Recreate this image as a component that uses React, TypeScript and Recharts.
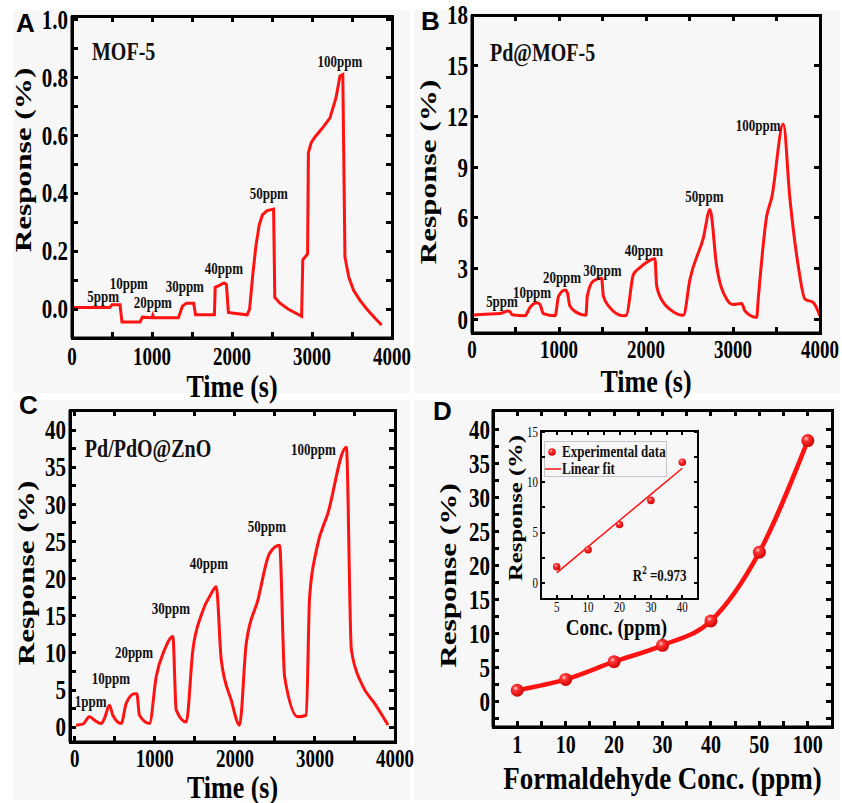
import { LineChart, ComposedChart, Line, XAxis, YAxis, ReferenceDot, Legend, Label } from "recharts";

const SERIF = '"Liberation Serif", "Times New Roman", serif';
const SANS = '"Liberation Sans", Arial, sans-serif';
const RED = "#ff1212";
const BG = "#f7f7f7";
const SY = 1.3; // source figure is stretched vertically, so is the text

// ---- A: MOF-5 ----
const timeA = [0, 470, 500, 600, 625, 850, 880, 1000, 1010, 1020, 1330, 1380, 1430, 1520, 1545, 1780, 1790, 1830, 1900, 1930, 1955, 2050, 2190, 2220, 2260, 2300, 2340, 2380, 2440, 2520, 2535, 2600, 2700, 2870, 2885, 2945, 2955, 2990, 3040, 3130, 3225, 3300, 3350, 3385, 3412, 3460, 3520, 3600, 3700, 3800, 3870];
const respA = [0.005, 0.005, 0.015, 0.015, -0.045, -0.045, -0.028, -0.03, -0.022, -0.03, -0.03, 0.01, 0.02, 0.02, -0.02, -0.02, 0.075, 0.08, 0.09, 0.085, -0.012, -0.015, -0.02, 0.0, 0.12, 0.22, 0.29, 0.325, 0.34, 0.345, 0.04, 0.02, 0.0, -0.025, 0.17, 0.19, 0.54, 0.575, 0.595, 0.625, 0.66, 0.73, 0.805, 0.81, 0.18, 0.11, 0.065, 0.03, -0.005, -0.035, -0.055];

// ---- B: Pd@MOF-5 ----
const timeB = [0, 100, 320, 415, 440, 460, 610, 665, 745, 780, 820, 955, 995, 1070, 1095, 1125, 1200, 1310, 1325, 1395, 1490, 1510, 1585, 1737, 1775, 1855, 1930, 2103, 2123, 2200, 2276, 2430, 2505, 2660, 2735, 2812, 2928, 3000, 3100, 3138, 3272, 3290, 3387, 3445, 3578, 3655, 3750, 3828, 3923, 4000];
const respB = [0.25, 0.3, 0.35, 0.5, 0.45, 0.28, 0.22, 0.7, 0.99, 0.9, 0.35, 0.22, 1.38, 1.74, 1.6, 0.8, 0.42, 0.25, 1.38, 2.27, 2.43, 1.38, 0.7, 0.22, 0.25, 2.66, 3.06, 3.59, 1.97, 1.0, 0.6, 0.25, 2.37, 4.84, 6.5, 3.16, 1.2, 0.89, 0.95, 0.5, 0.12, 1.2, 6.1, 7.2, 11.55, 7.1, 3.16, 1.2, 1.0, 0.2];

// ---- C: Pd/PdO@ZnO ----
const timeC = [16, 100, 183, 245, 330, 370, 433, 475, 580, 642, 745, 775, 808, 933, 1017, 1120, 1225, 1267, 1392, 1475, 1580, 1705, 1767, 1830, 1955, 2058, 2142, 2287, 2433, 2558, 2621, 2787, 2892, 2933, 3017, 3162, 3392, 3455, 3580, 3745, 3850, 3912];
const respC = [0.27, 0.4, 1.39, 0.94, 0.5, 1.17, 2.96, 1.6, 0.5, 3.2, 4.5, 4.5, 1.6, 0.5, 6.8, 10.4, 12.2, 2.3, 0.7, 10.4, 15.1, 18.0, 18.9, 9.0, 3.6, 0.27, 11.3, 17.1, 23.4, 24.5, 6.8, 1.4, 1.6, 17.5, 23.8, 28.8, 37.7, 10.4, 5.9, 3.2, 1.4, 0.3];

// ---- D: response vs concentration ----
const concD = ["1", "10", "20", "30", "40", "50", "100"];
const respD = [1.7, 3.3, 5.9, 8.3, 11.9, 22.0, 38.4];

// inset
const concIn = ["5", "10", "20", "30", "40"];
const respIn = [1.6, 3.3, 5.8, 8.2, 12.0];
const fitIn = [1.0, 3.6, 6.2, 8.8, 11.4];

// ticks
const TIME_TICKS = [0, 500, 1000, 1500, 2000, 2500, 3000, 3500, 4000];
const yTicksA = [0, 0.1, 0.2, 0.3, 0.4, 0.5, 0.6, 0.7, 0.8, 0.9, 1.0];
const yTicksB = [0, 3, 6, 9, 12, 15, 18];
const yTicksC = [0, 2.5, 5, 7.5, 10, 12.5, 15, 17.5, 20, 22.5, 25, 27.5, 30, 32.5, 35, 37.5, 40];
const yTicksD = [-2.5, 0, 2.5, 5, 7.5, 10, 12.5, 15, 17.5, 20, 22.5, 25, 27.5, 30, 32.5, 35, 37.5, 40];
const xTicksD = [0, 0.5, 1, 1.5, 2, 2.5, 3, 3.5, 4, 4.5, 5, 5.5, 6];
const yTicksIn = [0, 2.5, 5, 7.5, 10, 12.5, 15];
const xTicksIn = [0, 0.5, 1, 1.5, 2, 2.5, 3, 3.5, 4];

// domains
const xDomA: [number, number] = [0, 4000];
const yDomA: [number, number] = [-0.1, 1.012];
const xDomB: [number, number] = [0, 4000];
const yDomB: [number, number] = [-0.8, 18];
const xDomC: [number, number] = [-60, 4000];
const yDomC: [number, number] = [-2, 42.7];
const xDomD: [number, number] = [-0.5, 6.5];
const yDomD: [number, number] = [-3.7, 42.9];
const xDomIn: [number, number] = [-0.5, 4.5];
const yDomIn: [number, number] = [-1.6, 15.1];

// annotation placement (data units)
type Note = { text: string; t: number; v: number };
const notesA: Note[] = [
  { text: "5ppm", t: 390, v: 0.045 },
  { text: "10ppm", t: 710, v: 0.09 },
  { text: "20ppm", t: 1010, v: 0.024 },
  { text: "30ppm", t: 1410, v: 0.08 },
  { text: "40ppm", t: 1900, v: 0.14 },
  { text: "50ppm", t: 2460, v: 0.4 },
  { text: "100ppm", t: 3350, v: 0.855 },
];
const notesB: Note[] = [
  { text: "5ppm", t: 345, v: 1.07 },
  { text: "10ppm", t: 690, v: 1.6 },
  { text: "20ppm", t: 1035, v: 2.48 },
  { text: "30ppm", t: 1500, v: 2.94 },
  { text: "40ppm", t: 1977, v: 4.12 },
  { text: "50ppm", t: 2672, v: 7.27 },
  { text: "100ppm", t: 3289, v: 11.5 },
];
const notesC: Note[] = [
  { text: "1ppm", t: 198, v: 3.45 },
  { text: "10ppm", t: 452, v: 6.6 },
  { text: "20ppm", t: 740, v: 10.1 },
  { text: "30ppm", t: 1200, v: 16.0 },
  { text: "40ppm", t: 1675, v: 22.1 },
  { text: "50ppm", t: 2400, v: 27.1 },
  { text: "100ppm", t: 2980, v: 37.35 },
];

const fmtTime = (v: number) => (v % 1000 === 0 ? String(v) : "");
const fmtA = (v: number) => (Math.round(v * 10) % 2 === 0 ? v.toFixed(1) : "");
const fmtFive = (v: number) => (v % 5 === 0 ? String(v) : "");

// stretched tick label (axes use tickSize=0, tickMargin=gap)
function tickText(side: "bottom" | "left", fmt: (v: number) => string, size: number, weight = "bold") {
  return (p: any) => {
    const s = fmt(p.payload.value);
    if (!s) return <g />;
    return (
      <text
        transform={`translate(${p.x},${p.y}) scale(1,${SY})`}
        y={side === "bottom" ? size * 0.68 : size * 0.34}
        textAnchor={side === "bottom" ? "middle" : "end"}
        fontFamily={SERIF}
        fontWeight={weight}
        fontSize={size}
        fill="#000"
      >
        {s}
      </text>
    );
  };
}

const noteText = (text: string, size: number, anchor = "middle") => (props: any) => {
  const vb = props.viewBox;
  const cx = vb.x + (vb.width || 0) / 2;
  const cy = vb.y + (vb.height || 0) / 2;
  return (
    <text transform={`translate(${cx},${cy}) scale(1,${SY})`} y={size * 0.34} textAnchor={anchor} fontFamily={SERIF} fontWeight="bold" fontSize={size} fill="#111">
      {text}
    </text>
  );
};

const xTitle = (text: string, dy: number, size: number, dx = 0) => (props: any) => {
  const vb = props.viewBox;
  const cx = vb.x + vb.width / 2 + dx;
  const cy = vb.y + dy;
  return (
    <text transform={`translate(${cx},${cy}) scale(1,1.2)`} y={size * 0.35} textAnchor="middle" fontFamily={SERIF} fontWeight="bold" fontSize={size} fill="#000">
      {text}
    </text>
  );
};

const yTitle = (text: string, dx: number, dy: number, size: number) => (props: any) => {
  const vb = props.viewBox;
  const cx = vb.x + dx;
  const cy = vb.y + vb.height / 2 + dy;
  return (
    <text transform={`translate(${cx},${cy}) rotate(-90) scale(${SY},1)`} y={size * 0.35} textAnchor="middle" fontFamily={SERIF} fontWeight="bold" fontSize={size} fill="#000">
      {text}
    </text>
  );
};

const AX = { stroke: "#000", strokeWidth: 3 };

type PanelProps = {
  rows: { t: number; r: number }[];
  yDomain: [number, number];
  xDomain: [number, number];
  yTicks: number[];
  yFmt: (v: number) => string;
  notes: Note[];
  title: Note;
  w: number;
  h: number;
  margin: { top: number; right: number; bottom: number; left: number };
  yw: number;
  xh: number;
  xGap: number;
  yTitleDx: number;
  yTitleDy: number;
  xTitleDy: number;
  curve: "linear" | "monotone";
};

function TimePanel(p: PanelProps) {
  return (
    <LineChart width={p.w} height={p.h} data={p.rows} margin={p.margin}>
      <XAxis dataKey="t" type="number" domain={p.xDomain} ticks={TIME_TICKS} allowDataOverflow interval={0} height={p.xh}
        axisLine={AX} tickLine={false} tickSize={0} tickMargin={p.xGap} tick={tickText("bottom", fmtTime, 19)}>
        <Label content={xTitle("Time (s)", p.xTitleDy, 26)} />
      </XAxis>
      <YAxis type="number" domain={p.yDomain} ticks={p.yTicks} allowDataOverflow interval={0} width={p.yw}
        axisLine={AX} tickLine={false} tickSize={0} tickMargin={4} tick={tickText("left", p.yFmt, 21)}>
        <Label content={yTitle("Response (%)", p.yTitleDx, p.yTitleDy, 24)} />
      </YAxis>
      <Line dataKey="r" type={p.curve} stroke={RED} strokeWidth={3} dot={false} isAnimationActive={false} />
      <ReferenceDot x={p.title.t} y={p.title.v} r={0} fill="none" stroke="none" label={noteText(p.title.text, 20, "start")} />
      {p.notes.map((n) => (
        <ReferenceDot key={n.text} x={n.t} y={n.v} r={0} fill="none" stroke="none" label={noteText(n.text, 13)} />
      ))}
    </LineChart>
  );
}

const rowsA = timeA.map((t, i) => ({ t, r: respA[i] }));
const rowsB = timeB.map((t, i) => ({ t, r: respB[i] }));
const rowsC = timeC.map((t, i) => ({ t, r: respC[i] }));
const rowsD = concD.map((c, i) => ({ i, c, r: respD[i] }));
const rowsIn = concIn.map((c, i) => ({ i, c, exp: respIn[i], fit: fitIn[i] }));

const ball = (id: string, rad: number) => (p: any) =>
  p.cx == null ? <g key={p.index} /> : <circle key={p.index} cx={p.cx} cy={p.cy} r={rad} fill={`url(#${id})`} />;

const Grad = ({ id }: { id: string }) => (
  <radialGradient id={id} cx="0.38" cy="0.35" r="0.7">
    <stop offset="0" stopColor="#ffd0d0" />
    <stop offset="0.3" stopColor="#ff3030" />
    <stop offset="1" stopColor="#cc0000" />
  </radialGradient>
);

const insetLegend = () => (
  <div style={{ width: 123, height: 36, border: "1px solid #c4c4c4", fontFamily: SERIF, fontWeight: "bold", fontSize: 13, color: "#111", boxSizing: "border-box", whiteSpace: "nowrap", lineHeight: "17px" }}>
    <div style={{ display: "flex", alignItems: "center", height: 17, marginTop: 1 }}>
      <svg width={17} height={17} style={{ flex: "none" }}>
        <circle cx={7} cy={9} r={3.8} fill="url(#ballS)" />
      </svg>
      <span style={{ display: "inline-block", transform: `scaleY(${SY})` }}>Experimental data</span>
    </div>
    <div style={{ display: "flex", alignItems: "center", height: 17 }}>
      <svg width={17} height={17} style={{ flex: "none" }}>
        <line x1={0} x2={16} y1={9} y2={9} stroke={RED} strokeWidth={1.5} />
      </svg>
      <span style={{ display: "inline-block", transform: `scaleY(${SY})` }}>Linear fit</span>
    </div>
  </div>
);

const r2Label = (props: any) => {
  const vb = props.viewBox;
  const cx = vb.x + (vb.width || 0) / 2;
  const cy = vb.y + (vb.height || 0) / 2;
  return (
    <text transform={`translate(${cx},${cy}) scale(1,${SY})`} y={4.5} textAnchor="middle" fontFamily={SERIF} fontWeight="bold" fontSize={13} fill="#111">
      R<tspan fontSize={9} dy={-5}>2</tspan>
      <tspan dy={5}> =0.973</tspan>
    </text>
  );
};

const AXI = { stroke: "#000", strokeWidth: 1.7 };

function Inset() {
  const xf = (v: number) => (Number.isInteger(v) ? concIn[v] : "");
  return (
    <ComposedChart width={205} height={232} data={rowsIn} margin={{ top: 11, right: 7, bottom: 17, left: 0 }}>
      <defs>
        <Grad id="ballS" />
      </defs>
      <XAxis dataKey="i" type="number" domain={xDomIn} ticks={xTicksIn} allowDataOverflow interval={0} height={36}
        axisLine={AXI} tickLine={false} tickSize={0} tickMargin={3} tick={tickText("bottom", xf, 11, "normal")}>
        <Label content={xTitle("Conc. (ppm)", 28, 19, -3)} />
      </XAxis>
      <YAxis type="number" domain={yDomIn} ticks={yTicksIn} allowDataOverflow interval={0} width={41}
        axisLine={AXI} tickLine={false} tickSize={0} tickMargin={3} tick={tickText("left", fmtFive, 11, "normal")}>
        <Label content={yTitle("Response (%)", 15, -7, 19)} />
      </YAxis>
      <Line dataKey="fit" type="linear" stroke={RED} strokeWidth={1.5} dot={false} isAnimationActive={false} />
      <Line dataKey="exp" stroke="none" dot={ball("ballS", 3.8)} isAnimationActive={false} />
      <ReferenceDot x={3.28} y={0.8} r={0} fill="none" stroke="none" label={r2Label} />
      <Legend layout="vertical" align="center" verticalAlign="middle" content={insetLegend} wrapperStyle={{ left: 44, top: 21, width: 123 }} />
    </ComposedChart>
  );
}

function PanelD() {
  const xf = (v: number) => (Number.isInteger(v) ? concD[v] : "");
  return (
    <ComposedChart width={422} height={403} data={rowsD} margin={{ top: 10, right: 10, bottom: 0, left: 0 }}>
      <defs>
        <Grad id="ballD" />
      </defs>
      <XAxis dataKey="i" type="number" domain={xDomD} ticks={xTicksD} allowDataOverflow interval={0} height={76}
        axisLine={AX} tickLine={false} tickSize={0} tickMargin={8} tick={tickText("bottom", xf, 20)}>
        <Label content={xTitle("Formaldehyde Conc. (ppm)", 51, 27)} />
      </XAxis>
      <YAxis type="number" domain={yDomD} ticks={yTicksD} allowDataOverflow interval={0} width={73}
        axisLine={AX} tickLine={false} tickSize={0} tickMargin={3} tick={tickText("left", fmtFive, 21)}>
        <Label content={yTitle("Response (%)", 28, 7, 24)} />
      </YAxis>
      <Line dataKey="r" type="monotone" stroke={RED} strokeWidth={4.5} dot={ball("ballD", 6.5)} isAnimationActive={false} />
    </ComposedChart>
  );
}

// closed frame with inward ticks on all four sides; plot boxes follow the chart margins above
type Frame = { x0: number; x1: number; y0: number; y1: number; xd: [number, number]; yd: [number, number]; xt: number[]; yt: number[]; len: number; sw: number };
const frames: Frame[] = [
  { x0: 72, x1: 392, y0: 16, y1: 338, xd: xDomA, yd: yDomA, xt: TIME_TICKS, yt: yTicksA, len: 6, sw: 3 },
  { x0: 472, x1: 820, y0: 15, y1: 333, xd: xDomB, yd: yDomB, xt: TIME_TICKS, yt: yTicksB, len: 6, sw: 3 },
  { x0: 70, x1: 395, y0: 410, y1: 742, xd: xDomC, yd: yDomC, xt: TIME_TICKS, yt: yTicksC, len: 6, sw: 3 },
  { x0: 493, x1: 832, y0: 410, y1: 727, xd: xDomD, yd: yDomD, xt: xTicksD, yt: yTicksD, len: 6, sw: 3 },
  { x0: 541, x1: 698, y0: 431, y1: 599, xd: xDomIn, yd: yDomIn, xt: xTicksIn, yt: yTicksIn, len: 4, sw: 2 },
];

// frame drawn with plain positioned divs (the box plus tick stubs)
function FrameDivs({ f }: { f: Frame }) {
  const sx = (v: number) => f.x0 + ((v - f.xd[0]) / (f.xd[1] - f.xd[0])) * (f.x1 - f.x0);
  const sy = (v: number) => f.y1 - ((v - f.yd[0]) / (f.yd[1] - f.yd[0])) * (f.y1 - f.y0);
  const h = f.sw / 2;
  const bar = (left: number, top: number, width: number, height: number, key: string) => (
    <div key={key} style={{ position: "absolute", left, top, width, height, background: "#000" }} />
  );
  return (
    <>
      <div style={{ position: "absolute", left: f.x0 - h, top: f.y0 - h, width: f.x1 - f.x0 + f.sw, height: f.y1 - f.y0 + f.sw, border: `${f.sw}px solid #000`, boxSizing: "border-box" }} />
      {f.xt.map((v) => bar(sx(v) - h, f.y1 - f.len, f.sw, f.len, `xb${v}`))}
      {f.xt.map((v) => bar(sx(v) - h, f.y0, f.sw, f.len, `xt${v}`))}
      {f.yt.map((v) => bar(f.x0, sy(v) - h, f.len, f.sw, `yl${v}`))}
      {f.yt.map((v) => bar(f.x1 - f.len, sy(v) - h, f.len, f.sw, `yr${v}`))}
    </>
  );
}

const box = (left: number, top: number, w: number, h: number) => ({
  position: "absolute" as const, left, top, width: w, height: h, background: BG,
});
const at = (left: number, top: number) => ({ position: "absolute" as const, left, top });

export default function App() {
  return (
    <div style={{ position: "absolute", left: 0, top: 0, width: 842, height: 803, background: "#fff", overflow: "hidden" }}>
      <div style={box(13, 10, 397, 383)} />
      <div style={box(414, 10, 426, 383)} />
      <div style={box(13, 400, 397, 400)} />
      <div style={box(414, 400, 426, 400)} />

      <div style={at(0, 0)}>
        <TimePanel rows={rowsA} xDomain={xDomA} yDomain={yDomA} yTicks={yTicksA} yFmt={fmtA}
          notes={notesA} title={{ text: "MOF-5", t: 250, v: 0.89 }}
          w={425} h={415} margin={{ top: 16, right: 33, bottom: 15, left: 0 }} yw={72} xh={62} xGap={10}
          yTitleDx={23} yTitleDy={-17} xTitleDy={48} curve="linear" />
      </div>
      <div style={at(410, 0)}>
        <TimePanel rows={rowsB} xDomain={xDomB} yDomain={yDomB} yTicks={yTicksB} yFmt={(v) => String(v)}
          notes={notesB} title={{ text: "Pd@MOF-5", t: 207, v: 15.8 }}
          w={432} h={415} margin={{ top: 15, right: 22, bottom: 15, left: 0 }} yw={62} xh={67} xGap={8}
          yTitleDx={18} yTitleDy={-2} xTitleDy={48} curve="monotone" />
      </div>
      <div style={at(0, 400)}>
        <TimePanel rows={rowsC} xDomain={xDomC} yDomain={yDomC} yTicks={yTicksC} yFmt={fmtFive}
          notes={notesC} title={{ text: "Pd/PdO@ZnO", t: 125, v: 37.6 }}
          w={425} h={403} margin={{ top: 10, right: 30, bottom: 0, left: 0 }} yw={70} xh={61} xGap={8}
          yTitleDx={26} yTitleDy={-3} xTitleDy={45} curve="monotone" />
      </div>
      <div style={at(420, 400)}>
        <PanelD />
      </div>
      <div style={at(500, 420)}>
        <Inset />
      </div>

      {frames.map((f, i) => (
        <FrameDivs key={i} f={f} />
      ))}

      <svg width={842} height={803} style={{ position: "absolute", left: 0, top: 0, pointerEvents: "none" }}>
        <g fontFamily={SANS} fontWeight="bold" fontSize={26} fill="#000">
          <text x={16} y={32}>A</text>
          <text x={421} y={30}>B</text>
          <text x={19} y={414}>C</text>
          <text x={433} y={420}>D</text>
        </g>
      </svg>
    </div>
  );
}
